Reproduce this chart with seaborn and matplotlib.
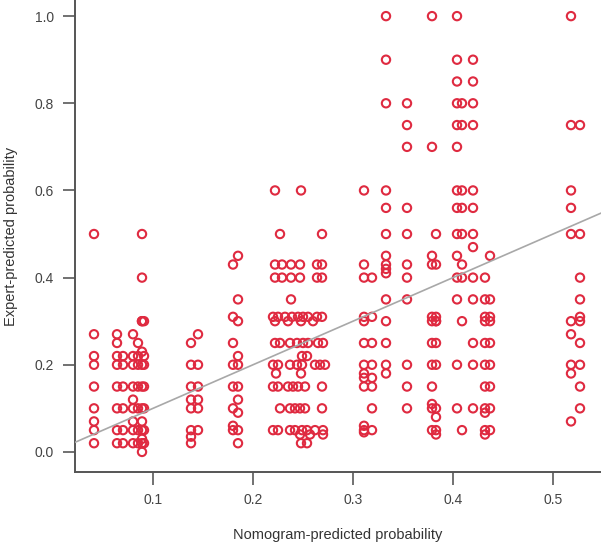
import matplotlib
matplotlib.use("Agg")
import matplotlib.pyplot as plt
import seaborn as sns
import pandas as pd

# nomogram-predicted probability of each column of points, with the expert values in it
col_x = [0.041, 0.064, 0.070, 0.080, 0.085, 0.089, 0.091,
         0.138, 0.145, 0.180, 0.185]
col_y = [
    [0.5, 0.27, 0.22, 0.2, 0.15, 0.1, 0.07, 0.05, 0.02],
    [0.27, 0.25, 0.22, 0.2, 0.15, 0.1, 0.05, 0.02],
    [0.22, 0.2, 0.15, 0.1, 0.05, 0.02],
    [0.27, 0.22, 0.2, 0.15, 0.12, 0.1, 0.07, 0.05, 0.02],
    [0.25, 0.22, 0.2, 0.15, 0.1, 0.05, 0.02],
    [0.5, 0.4, 0.3, 0.3, 0.23, 0.2, 0.15, 0.1, 0.07, 0.05, 0.03, 0.02, 0.0],
    [0.3, 0.22, 0.2, 0.15, 0.1, 0.05, 0.02],
    [0.25, 0.2, 0.15, 0.12, 0.1, 0.05, 0.035, 0.02],
    [0.27, 0.2, 0.15, 0.12, 0.1, 0.05],
    [0.43, 0.31, 0.25, 0.2, 0.15, 0.1, 0.06, 0.05],
    [0.45, 0.35, 0.3, 0.22, 0.2, 0.15, 0.12, 0.09, 0.05, 0.02],
]

# middle block (0.22 - 0.27): rows of expert values, with the nomogram values in each row
row_y = [0.6, 0.5, 0.43, 0.4, 0.35, 0.31, 0.3, 0.25, 0.22, 0.2, 0.18,
         0.15, 0.1, 0.05, 0.04, 0.02]
row_x = [
    [0.222, 0.248],
    [0.227, 0.269],
    [0.222, 0.229, 0.238, 0.247, 0.264, 0.269],
    [0.222, 0.229, 0.238, 0.247, 0.264, 0.269],
    [0.238],
    [0.220, 0.225, 0.232, 0.239, 0.245, 0.250, 0.255, 0.264, 0.269],
    [0.222, 0.235, 0.248, 0.260],
    [0.222, 0.227, 0.237, 0.244, 0.250, 0.255, 0.265, 0.270],
    [0.249, 0.254],
    [0.220, 0.225, 0.237, 0.244, 0.249, 0.262, 0.267, 0.272],
    [0.223, 0.248],
    [0.220, 0.225, 0.235, 0.240, 0.245, 0.252, 0.269],
    [0.227, 0.237, 0.242, 0.247, 0.252, 0.269],
    [0.220, 0.225, 0.237, 0.242, 0.249, 0.254, 0.262, 0.270],
    [0.247, 0.257, 0.270],
    [0.248, 0.254],
]

# right part (0.31 - 0.53)
col_x2 = [0.311, 0.319, 0.333, 0.354, 0.379, 0.383, 0.404, 0.409,
          0.420, 0.432, 0.437, 0.518, 0.527]
col_y2 = [
    [0.6, 0.43, 0.4, 0.31, 0.3, 0.25, 0.2, 0.18, 0.17, 0.15, 0.06, 0.05, 0.045],
    [0.4, 0.31, 0.25, 0.2, 0.17, 0.15, 0.1, 0.05],
    [1.0, 0.9, 0.8, 0.6, 0.56, 0.5, 0.45, 0.43, 0.42, 0.41, 0.35, 0.3, 0.25, 0.2, 0.18],
    [0.8, 0.75, 0.7, 0.56, 0.5, 0.43, 0.4, 0.35, 0.2, 0.15, 0.1],
    [1.0, 0.7, 0.45, 0.43, 0.31, 0.3, 0.25, 0.2, 0.15, 0.11, 0.1, 0.05],
    [0.5, 0.43, 0.31, 0.3, 0.3, 0.25, 0.2, 0.1, 0.08, 0.05, 0.04],
    [1.0, 0.9, 0.85, 0.8, 0.75, 0.7, 0.6, 0.56, 0.5, 0.45, 0.4, 0.35, 0.2, 0.1],
    [0.8, 0.75, 0.6, 0.56, 0.5, 0.43, 0.4, 0.3, 0.05],
    [0.9, 0.85, 0.8, 0.75, 0.6, 0.56, 0.5, 0.47, 0.4, 0.35, 0.25, 0.2, 0.1],
    [0.4, 0.35, 0.31, 0.3, 0.25, 0.2, 0.15, 0.1, 0.09, 0.05, 0.04],
    [0.45, 0.35, 0.31, 0.3, 0.25, 0.2, 0.15, 0.1, 0.05],
    [1.0, 0.75, 0.6, 0.56, 0.5, 0.3, 0.27, 0.2, 0.18, 0.07],
    [0.75, 0.5, 0.4, 0.35, 0.31, 0.3, 0.25, 0.2, 0.15, 0.1],
]

xticks = [0.1, 0.2, 0.3, 0.4, 0.5]
yticks = [0.0, 0.2, 0.4, 0.6, 0.8, 1.0]

nomo, expert = [], []
for cx, ys in zip(col_x + col_x2, col_y + col_y2):
    for v in ys:
        nomo.append(cx)
        expert.append(v)
for ry, xs in zip(row_y, row_x):
    for v in xs:
        nomo.append(v)
        expert.append(ry)
df = pd.DataFrame({"nomogram": nomo, "expert": expert})

sns.set_style("white")
plt.rcParams["font.family"] = ["Liberation Sans", "DejaVu Sans"]

fig = plt.figure(figsize=(6.01, 5.45), dpi=100)
ax = fig.add_axes([0.1248, 0.134, 0.8752, 0.866])

red = "#df2a40"
sns.scatterplot(data=df, x="nomogram", y="expert", ax=ax, marker="o", s=36,
                facecolors="none", edgecolor=red, linewidth=1.5, zorder=2)
ax.axline((0, 0), (1, 1), color="#a8a8a8", lw=1.2, zorder=3)

ax.set_xlim(0.022, 0.548)
ax.set_ylim(-0.046, 1.037)
ax.set_xticks(xticks)
ax.set_yticks(yticks)
ax.set_xticklabels([f"{t:.1f}" for t in xticks])
ax.set_yticklabels([f"{t:.1f}" for t in yticks])

sns.despine(ax=ax)
for s in ["left", "bottom"]:
    ax.spines[s].set_color("#555555")
    ax.spines[s].set_linewidth(1.4)
ax.tick_params(axis="both", direction="out", length=9, width=1.3, color="#666666",
               labelsize=10, labelcolor="#444444", pad=6, left=True, bottom=True)

ax.set_xlabel("Nomogram-predicted probability", fontsize=10.5, color="#333333", labelpad=15)
ax.set_ylabel("Expert-predicted probability", fontsize=10.5, color="#333333", labelpad=12)

fig.savefig("out.png", dpi=100)
